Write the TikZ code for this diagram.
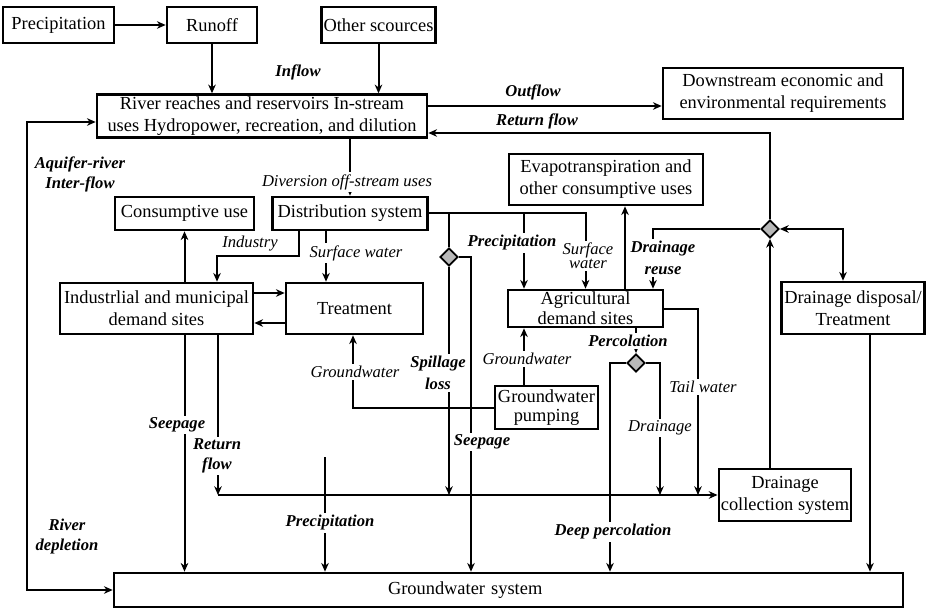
\documentclass[tikz,border=0pt]{standalone}
\usepackage{fontspec}
\setmainfont{Liberation Serif}
\usetikzlibrary{arrows.meta,shapes.geometric}

\begin{document}
\begin{tikzpicture}[x=0.5pt,y=-0.5pt,->,>={Stealth[length=4.4pt,width=3.8pt]},line width=1pt,
   box/.style={draw,line width=1.3pt,align=center,inner sep=1pt,font=\fontsize{9.2}{11}\selectfont},
   tight/.style={inner sep=0pt,font=\fontsize{9.2}{9.8}\selectfont},
   junc/.style={diamond,draw,line width=0.9pt,fill=gray!55,minimum width=9pt,minimum height=9pt,inner sep=0pt},
   lab/.style={align=center,inner sep=1pt,font=\fontsize{8.3}{10}\selectfont\itshape},
   blab/.style={lab,font=\fontsize{8.3}{10}\selectfont\bfseries\itshape},
   gap/.style={fill=white}]
  \useasboundingbox (0,0) rectangle (927,610);

  \node[box,minimum width=55.5pt,minimum height=18pt] (Prec) at (58.5,25) {Precipitation};
  \node[box,minimum width=45pt,minimum height=18pt] (Runoff) at (212,25) {Runoff};
  \node[box,minimum width=56.5pt,minimum height=18pt] (Other) at (378.5,25) {Other scources};
  \node[box,minimum width=165pt,minimum height=21pt] (River) at (262,116)
    {River reaches and reservoirs In-stream\\uses Hydropower, recreation, and dilution};
  \node[box,minimum width=120pt,minimum height=25.5pt] (Down) at (783,93.5)
    {Downstream economic and\\environmental requirements};
  \node[box,minimum width=69.5pt,minimum height=16.5pt] (Consum) at (184.5,213.5) {Consumptive use};
  \node[box,minimum width=77.5pt,minimum height=16.5pt] (Distr) at (350,213.5) {Distribution system};
  \node[box,minimum width=96.5pt,minimum height=25.5pt] (Indus) at (156.5,308.5)
    {Industrlial and municipal\\demand sites};
  \node[box,minimum width=68.5pt,minimum height=25.5pt] (Treat) at (354.5,308.5) {Treatment};
  \node[box,minimum width=97pt,minimum height=25.5pt] (Evap) at (606,179.5)
    {Evapotranspiration and\\other consumptive uses};
  \node[box,tight,minimum width=77.5pt,minimum height=18.5pt] (Agri) at (585.5,308.5)
    {Agricultural\\demand sites};
  \node[box,tight,minimum width=51.5pt,minimum height=21.5pt] (Pump) at (546.5,407.5)
    {Groundwater\\pumping};
  \node[box,minimum width=71.5pt,minimum height=26pt] (Dispo) at (853,308)
    {Drainage disposal/\\Treatment};
  \node[box,minimum width=66pt,minimum height=26pt] (Coll) at (785,495)
    {Drainage\\collection system};
  \node[box,minimum height=17pt,text width=392.5pt,align=left] (GW) at (508.5,590)
    {\hspace*{136pt}Groundwater system};

  \node[junc] (J1) at (449,257) {};
  \node[junc] (J2) at (770,229) {};
  \node[junc] (J3) at (636,363) {};

  \coordinate (OutY) at (0,106);
  \coordinate (RetY) at (0,133);
  \coordinate (AqY) at (0,122);
  \coordinate (AqC) at (27,590);
  \coordinate (IndA) at (299,256);
  \coordinate (IndB) at (217,256);
  \coordinate (SwX) at (326,0);
  \coordinate (ItA) at (0,293);
  \coordinate (ItB) at (0,323);
  \coordinate (GwX) at (353,0);
  \coordinate (PaX) at (524,0);
  \coordinate (SeepX) at (471,0);
  \coordinate (EvX) at (625,0);
  \coordinate (DrX) at (653,0);
  \coordinate (DdX) at (843,0);
  \coordinate (DgX) at (870,0);
  \coordinate (TwX) at (698,0);
  \coordinate (DpX) at (610,0);
  \coordinate (DnX) at (660,0);
  \coordinate (RfX) at (218,0);
  \coordinate (LineY) at (0,495);
  \coordinate (PrecB) at (325,457);

  \draw (Prec) -- (Runoff);
  \draw (Runoff) -- (Runoff |- River.north);
  \draw (Other) -- (Other |- River.north);
  \draw (River.east |- OutY) -- (Down.west |- OutY);
  \draw (J2.north) |- (River.east |- RetY);
  \draw[<->] (River.west |- AqY) -| (AqC) -- (GW.west);
  \draw (River.south -| Distr) -- (Distr.north);
  \draw (Indus.north -| Consum) -- (Consum.south);
  \draw (Distr.south -| IndA) -- (IndA) -- (IndB) -- (Indus.north -| IndB);
  \draw (Distr.south -| SwX) -- (Treat.north -| SwX);
  \draw (Indus.east |- ItA) -- (Treat.west |- ItA);
  \draw (Treat.west |- ItB) -- (Indus.east |- ItB);
  \draw (Pump.west) -| (Treat.south -| GwX);
  \draw (Pump.north -| PaX) -- (Agri.south -| PaX);
  \draw (Distr.east) -| (Agri.north);
  \draw (Distr.east -| PaX) -- (Agri.north -| PaX);
  \draw[-] (Distr.east -| J1) -- (J1.north);
  \draw (J1.south) -- (J1 |- LineY);
  \draw (J1.east) -| (GW.north -| SeepX);
  \draw (Agri.north -| EvX) -- (Evap.south -| EvX);
  \draw (J2.west) -| (Agri.north -| DrX);
  \draw[<->] (J2.east) -| (Dispo.north -| DdX);
  \draw (Coll.north -| J2) -- (J2.south);
  \draw (Dispo.south -| DgX) -- (GW.north -| DgX);
  \draw (Agri.east) -| (TwX |- LineY);
  \draw (Agri.south -| J3) -- (J3.north);
  \draw (J3.west) -| (GW.north -| DpX);
  \draw (J3.east) -| (DnX |- LineY);
  \draw (Indus.south -| RfX) -- (RfX |- LineY);
  \draw (RfX |- LineY) -- (Coll.west);
  \draw (Indus.south -| Consum) -- (GW.north -| Consum);
  \draw (PrecB) -- (GW.north -| PrecB);

  \node[blab] (LInflow) at (298,72) {Inflow};
  \node[blab] (LOut) at (533,92) {Outflow};
  \node[blab] (LRet) at (537,121) {Return flow};
  \node[blab] (LAquifer) at (80,174) {Aquifer-river\\Inter-flow};
  \node[lab,gap] (LDiv) at (347,182) {Diversion off-stream uses};
  \node[lab] (LIndustry) at (250,244) {Industry};
  \node[lab,gap] (LSurf) at (356,253) {Surface water};
  \node[blab,gap] (LPrecA) at (512,243) {Precipitation};
  \node[lab,gap,font=\fontsize{8.3}{7}\selectfont\itshape] (LSurfB) at (588,256) {Surface\\water};
  \node[blab,gap,font=\fontsize{8.3}{11}\selectfont\bfseries\itshape] (LReuse) at (663,258) {Drainage\\reuse};
  \node[blab,gap] (LPerc) at (628,341) {Percolation};
  \node[lab,gap] (LGwA) at (355,372) {Groundwater};
  \node[blab,gap,font=\fontsize{8.3}{11}\selectfont\bfseries\itshape] (LSpill) at (438,373) {Spillage\\loss};
  \node[lab,gap] (LGwB) at (527,359) {Groundwater};
  \node[lab,gap] (LTail) at (703,387) {Tail water};
  \node[lab,gap] (LDrain) at (660,428) {Drainage};
  \node[blab,gap] (LSeepB) at (482,442) {Seepage};
  \node[blab,gap] (LSeepA) at (177,425) {Seepage};
  \node[blab,gap] (LRetFlow) at (217,456) {Return\\flow};
  \node[blab,gap] (LPrecB) at (330,523) {Precipitation};
  \node[blab,gap] (LDeep) at (613,532) {Deep percolation};
  \node[blab] (LDepl) at (67,537) {River\\depletion};
\end{tikzpicture}
\end{document}
